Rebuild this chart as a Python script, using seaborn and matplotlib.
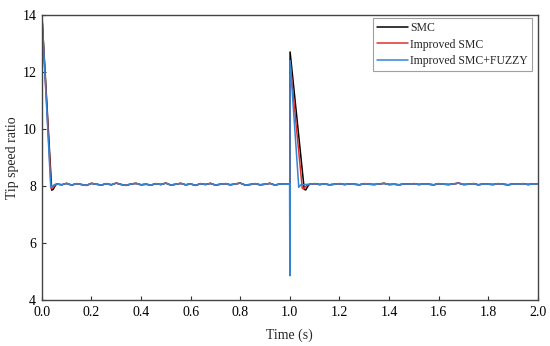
#!/usr/bin/env python3

import numpy as np
import pandas as pd
import seaborn as sns
import matplotlib.pyplot as plt

# transient points (time s, tip speed ratio)
smc_start_t = [0.0, 0.001, 0.040, 0.046, 0.052, 0.058]
smc_start_v = [4.0, 13.90, 7.85, 7.88, 7.98, 8.05]
smc_step_t = [1.000, 1.001, 1.058, 1.064, 1.072, 1.078]
smc_step_v = [8.06, 12.70, 7.88, 7.86, 7.98, 8.05]

imp_start_t = [0.0, 0.001, 0.038, 0.044, 0.052, 0.058]
imp_start_v = [4.0, 13.85, 7.90, 7.92, 8.02, 8.06]
imp_step_t = [1.000, 1.001, 1.050, 1.056, 1.066, 1.078]
imp_step_v = [8.06, 12.35, 7.92, 7.90, 8.00, 8.05]

fuz_start_t = [0.0, 0.001, 0.036, 0.042, 0.050, 0.058]
fuz_start_v = [4.0, 13.90, 7.95, 7.98, 8.04, 8.06]
fuz_step_t = [0.999, 1.000, 1.001, 1.036, 1.044, 1.078]
fuz_step_v = [8.06, 4.85, 12.40, 7.95, 8.04, 8.06]

# steady-state ripple, one value every 0.02 s
steady_a = [8.07, 8.04, 8.09, 8.03, 8.08, 8.05, 8.02, 8.09, 8.06, 8.03,
            8.08, 8.04, 8.10, 8.05, 8.02, 8.07, 8.09, 8.04, 8.06, 8.03,
            8.08, 8.05, 8.10, 8.03, 8.06, 8.09, 8.04, 8.07, 8.02, 8.08,
            8.05, 8.09, 8.03, 8.06, 8.08, 8.04, 8.07, 8.10, 8.03, 8.05,
            8.08, 8.04, 8.06, 8.09, 8.03, 8.07, 8.06]
steady_b = [8.06, 8.08, 8.05, 8.07, 8.04, 8.06, 8.08, 8.05, 8.07, 8.06,
            8.04, 8.08, 8.06, 8.05, 8.07, 8.09, 8.05, 8.06, 8.04, 8.07,
            8.06, 8.08, 8.05, 8.07, 8.06, 8.04, 8.08, 8.06, 8.05, 8.07,
            8.10, 8.05, 8.06, 8.08, 8.04, 8.07, 8.06, 8.05, 8.08, 8.06,
            8.04, 8.07, 8.06, 8.08, 8.05, 8.07, 8.06]

labels = ["SMC", "Improved SMC", "Improved SMC+FUZZY"]
colors = ["#000000", "#e0302c", "#3484d4"]

t_a = np.linspace(0.06, 0.98, len(steady_a))
t_b = np.linspace(1.08, 2.0, len(steady_b))

rows = []
series = [
    (labels[0], smc_start_t, smc_start_v, smc_step_t, smc_step_v),
    (labels[1], imp_start_t, imp_start_v, imp_step_t, imp_step_v),
    (labels[2], fuz_start_t, fuz_start_v, fuz_step_t, fuz_step_v),
]
for name, t0, v0, t1, v1 in series:
    tt = list(t0) + list(t_a) + list(t1) + list(t_b)
    vv = list(v0) + steady_a + list(v1) + steady_b
    rows.append(pd.DataFrame({"t": tt, "v": vv, "model": name}))
df = pd.concat(rows, ignore_index=True)

sns.set_style("ticks")
plt.rcParams["font.family"] = ["Liberation Serif", "DejaVu Serif"]
plt.rcParams["xtick.direction"] = "in"
plt.rcParams["ytick.direction"] = "in"

fig = plt.figure(figsize=(5.5, 3.46), dpi=100)
ax = fig.add_axes([0.076, 0.133, 0.902, 0.824])

sns.lineplot(data=df, x="t", y="v", hue="model", hue_order=labels,
             palette=colors, sort=False, estimator=None, lw=1.1, ax=ax)

ax.set_xlim(0, 2.0)
ax.set_ylim(4, 14)
ax.set_xticks(np.arange(0, 2.01, 0.2))
ax.set_xticklabels([f"{x:.1f}" for x in np.arange(0, 2.01, 0.2)])
ax.set_yticks([4, 6, 8, 10, 12, 14])
ax.tick_params(labelsize=10, length=3, width=0.8, colors="#333333",
               labelcolor="black")
ax.tick_params(axis="x", pad=4)
ax.tick_params(axis="y", pad=4)
for s in ax.spines.values():
    s.set_color("#444444")
    s.set_linewidth(1.0)
ax.set_xlabel("Time (s)", fontsize=10, labelpad=7)
ax.set_ylabel("Tip speed ratio", fontsize=10)
ax.yaxis.set_label_coords(-0.045, 0.5)

leg = ax.legend(loc="upper right", fontsize=8.5, frameon=True, fancybox=False,
                edgecolor="#888888", handlelength=2.6, handletextpad=0.2,
                borderpad=0.35, labelspacing=0.4, borderaxespad=0,
                bbox_to_anchor=(0.988, 0.99))
leg.get_frame().set_linewidth(0.8)
leg.set_title(None)

fig.savefig("out.png", dpi=100)
